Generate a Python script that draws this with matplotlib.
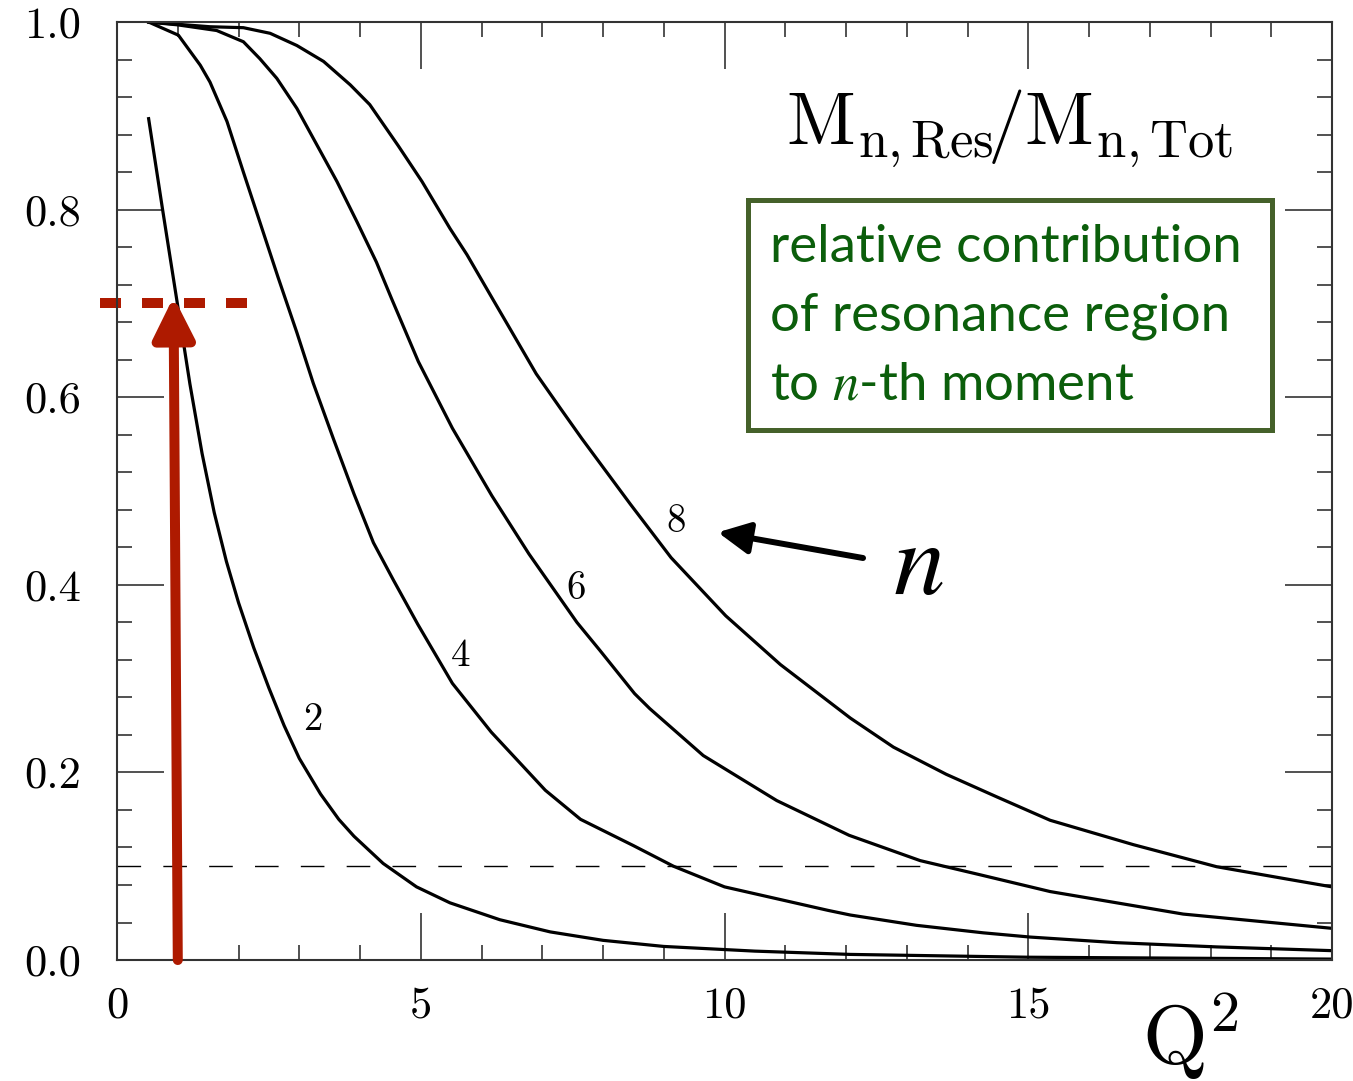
import matplotlib
matplotlib.use("Agg")
import matplotlib.pyplot as plt
from matplotlib.patches import Rectangle
from matplotlib.ticker import MultipleLocator, FormatStrFormatter

plt.rcParams['mathtext.fontset'] = 'cm'

q2_n2 = [0.52, 0.75, 1.00, 1.20, 1.40, 1.60, 1.80, 2.00, 2.25, 2.50, 2.75, 3.00,
         3.35, 3.65, 3.90, 4.38, 4.93, 5.48, 6.30, 7.13, 8.0, 9.0, 10.5, 12.07,
         15.0, 20.0]
r_n2 = [0.897, 0.800, 0.697, 0.614, 0.540, 0.477, 0.425, 0.381, 0.333, 0.290,
        0.250, 0.215, 0.177, 0.150, 0.132, 0.103, 0.078, 0.061, 0.043, 0.030,
        0.021, 0.0145, 0.0095, 0.006, 0.003, 0.001]

q2_n4 = [0.52, 1.01, 1.37, 1.53, 1.81, 2.08, 2.35, 2.65, 2.96, 3.23, 3.56, 3.90,
         4.22, 4.55, 4.95, 5.52, 6.16, 7.05, 7.63, 8.50, 9.16, 10.0, 11.7, 12.07,
         13.16, 14.26, 15.03, 16.46, 18.1, 20.0]
r_n4 = [1.0, 0.986, 0.954, 0.936, 0.894, 0.840, 0.787, 0.728, 0.669, 0.615,
        0.556, 0.497, 0.445, 0.405, 0.358, 0.295, 0.243, 0.181, 0.150, 0.122,
        0.100, 0.078, 0.053, 0.048, 0.037, 0.029, 0.0245, 0.0185, 0.0140, 0.0100]

q2_n6 = [0.52, 1.0, 1.64, 2.08, 2.35, 2.63, 2.96, 3.29, 3.62, 3.95, 4.27, 4.52,
         4.96, 5.52, 6.17, 6.78, 7.57, 7.95, 8.52, 8.77, 9.65, 10.86, 12.05, 13.22,
         14.2, 15.36, 17.55, 20.0]
r_n6 = [1.0, 0.997, 0.991, 0.979, 0.961, 0.940, 0.908, 0.869, 0.830, 0.787,
        0.744, 0.705, 0.638, 0.567, 0.495, 0.433, 0.360, 0.330, 0.284, 0.268,
        0.218, 0.170, 0.133, 0.106, 0.091, 0.073, 0.049, 0.0338]

q2_n8 = [0.52, 1.53, 2.08, 2.52, 2.96, 3.40, 3.84, 4.16, 4.63, 5.02, 5.48, 5.76,
         6.19, 6.46, 6.90, 7.30, 7.65, 8.45, 9.12, 10.02, 10.92, 12.07, 12.78,
         13.65, 14.48, 15.36, 16.73, 18.1, 19.2, 20.0]
r_n8 = [1.0, 0.995, 0.994, 0.988, 0.975, 0.958, 0.933, 0.912, 0.868, 0.830,
        0.780, 0.752, 0.704, 0.674, 0.625, 0.588, 0.556, 0.486, 0.429, 0.367,
        0.315, 0.258, 0.227, 0.198, 0.174, 0.149, 0.123, 0.0995, 0.087, 0.078]

curve_names = ['2', '4', '6', '8']
name_pos = [(3.23, 0.256), (5.66, 0.324), (7.56, 0.396), (9.20, 0.467)]

cut_level = 0.1
marked_q2 = 1.0
marked_ratio = 0.70

red = '#ae1a00'
box_green = '#45612a'
text_green = '#0b5e0b'

fig = plt.figure(figsize=(13.53, 10.81), dpi=100)
ax = fig.add_axes([0.0865, 0.1119, 0.898, 0.8677])

for xs, ys in [(q2_n2, r_n2), (q2_n4, r_n4), (q2_n6, r_n6), (q2_n8, r_n8)]:
    ax.plot(xs, ys, color='black', lw=2.3, solid_joinstyle='round')

for name, (x, y) in zip(curve_names, name_pos):
    ax.text(x, y, name, family='cmr10', fontsize=28, ha='center', va='center')

ax.axhline(cut_level, color='black', lw=1.0, dashes=(17, 16))

# red marker: Q^2 = 1 and the 70% level
ax.plot([-0.28, 2.14], [marked_ratio, marked_ratio], color=red, lw=7.2,
        dashes=(2.1, 2.1), solid_capstyle='butt', dash_capstyle='butt', clip_on=False)
ax.annotate('', xy=(0.93, 0.707), xytext=(marked_q2, 0.0),
            arrowprops=dict(arrowstyle='-|>', mutation_scale=62, lw=7.2, color=red,
                            shrinkA=0, shrinkB=0))

# arrow pointing at the curves, labelled n
ax.annotate('', xy=(9.89, 0.456), xytext=(12.28, 0.4286),
            arrowprops=dict(arrowstyle='-|>', mutation_scale=48, lw=4.3, color='black',
                            shrinkA=0, shrinkB=0))
ax.text(13.19, 0.421, r'$n$', fontsize=74, ha='center', va='center',
        math_fontfamily='stix')

ax.text(0.735, 0.869, r'$\mathrm{M}_{\mathrm{n,Res}}\!/\mathrm{M}_{\mathrm{n,Tot}}$',
        transform=ax.transAxes, fontsize=54, ha='center', va='baseline')

ax.add_patch(Rectangle((0.519, 0.565), 0.432, 0.245, transform=ax.transAxes,
                       fill=False, edgecolor=box_green, lw=3.6, zorder=5))
box_lines = ['relative contribution', 'of resonance region', r'to $n$-th moment']
for i, line in enumerate(box_lines):
    ax.text(0.5375, 0.744 - i * 0.073, line, transform=ax.transAxes, fontsize=38,
            family='Lato', color=text_green, ha='left', va='baseline',
            math_fontfamily='stix')

ax.set_xlim(0, 20)
ax.set_ylim(0, 1.0)
ax.xaxis.set_major_locator(MultipleLocator(5))
ax.xaxis.set_minor_locator(MultipleLocator(1))
ax.yaxis.set_major_locator(MultipleLocator(0.2))
ax.yaxis.set_minor_locator(MultipleLocator(0.04))
ax.yaxis.set_major_formatter(FormatStrFormatter('%.1f'))

ax.tick_params(which='both', direction='in', top=True, right=True,
               width=1.2, color='#333333')
ax.tick_params(which='major', length=34)
ax.tick_params(which='minor', length=11)
ax.tick_params(axis='x', pad=19)
ax.tick_params(axis='y', pad=26)
for lab in ax.get_xticklabels() + ax.get_yticklabels():
    lab.set_family('cmr10')
    lab.set_fontsize(32)
for sp in ax.spines.values():
    sp.set_linewidth(1.5)
    sp.set_color('#333333')

fig.text(0.8795, 0.016, r'$\mathrm{Q}^2$', fontsize=60, ha='center', va='baseline')

fig.savefig('out.png', dpi=100)
